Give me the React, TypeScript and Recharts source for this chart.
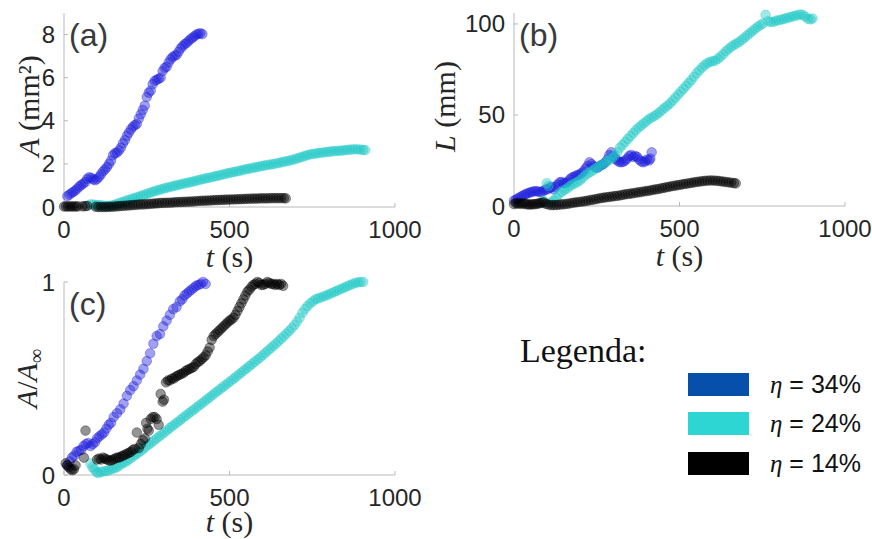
import { ScatterChart, Scatter, XAxis, YAxis, Label } from "recharts";

type Pt = [number, number];

// (a) area A (mm^2) against t (s)
const areaBlue: Pt[] = [
  [10, 0.5], [16, 0.57], [22, 0.64], [28, 0.7], [34, 0.76], [40, 0.85], [46, 0.95], [52, 1.02],
  [58, 1.08], [64, 1.15], [70, 1.3], [76, 1.38], [82, 1.35], [88, 1.28], [94, 1.24], [100, 1.3],
  [106, 1.4], [112, 1.52], [118, 1.65], [124, 1.75], [130, 1.85], [136, 2.0], [142, 2.15], [148, 2.4],
  [154, 2.5], [160, 2.52], [166, 2.62], [172, 2.75], [178, 2.95], [184, 3.1], [190, 3.3], [196, 3.45],
  [202, 3.6], [208, 3.72], [214, 3.8], [220, 3.85], [226, 4.1], [232, 4.3], [238, 4.5], [244, 4.7],
  [250, 5.1], [256, 5.3], [262, 5.4], [268, 5.7], [274, 5.85], [280, 5.9], [286, 5.95], [292, 6.0],
  [298, 6.3], [304, 6.45], [310, 6.5], [316, 6.7], [322, 6.85], [328, 6.95], [334, 7.02], [340, 7.05],
  [346, 7.2], [352, 7.35], [358, 7.45], [364, 7.55], [370, 7.6], [376, 7.7], [382, 7.78], [388, 7.85],
  [394, 7.92], [400, 8.0], [406, 8.03], [412, 8.06], [418, 8.02],
];
const areaCyan: Pt[] = [
  [80, 0.12], [88, 0.11], [96, 0.1], [104, 0.09], [112, 0.08], [120, 0.06], [128, 0.05], [136, 0.05],
  [144, 0.07], [152, 0.1], [160, 0.14], [168, 0.19], [176, 0.23], [184, 0.27], [192, 0.31], [200, 0.35],
  [208, 0.39], [216, 0.43], [224, 0.47], [232, 0.51], [240, 0.55], [248, 0.6], [256, 0.64], [264, 0.68],
  [272, 0.72], [280, 0.76], [288, 0.8], [296, 0.83], [304, 0.87], [312, 0.9], [320, 0.93], [328, 0.96],
  [336, 0.99], [344, 1.02], [352, 1.05], [360, 1.08], [368, 1.11], [376, 1.13], [384, 1.16], [392, 1.19],
  [400, 1.22], [408, 1.25], [416, 1.28], [424, 1.31], [432, 1.34], [440, 1.36], [448, 1.39], [456, 1.42],
  [464, 1.45], [472, 1.48], [480, 1.51], [488, 1.54], [496, 1.57], [504, 1.59], [512, 1.62], [520, 1.65],
  [528, 1.67], [536, 1.7], [544, 1.73], [552, 1.76], [560, 1.78], [568, 1.81], [576, 1.83], [584, 1.86],
  [592, 1.88], [600, 1.91], [608, 1.93], [616, 1.95], [624, 1.97], [632, 1.99], [640, 2.02], [648, 2.04],
  [656, 2.07], [664, 2.1], [672, 2.12], [680, 2.15], [688, 2.18], [696, 2.21], [704, 2.25], [712, 2.29],
  [720, 2.33], [728, 2.37], [736, 2.41], [744, 2.44], [752, 2.46], [760, 2.48], [768, 2.5], [776, 2.52],
  [784, 2.53], [792, 2.55], [800, 2.56], [808, 2.58], [816, 2.59], [824, 2.6], [832, 2.61], [840, 2.62],
  [848, 2.63], [856, 2.65], [864, 2.66], [872, 2.67], [880, 2.68], [888, 2.67], [896, 2.66], [904, 2.65],
  [910, 2.64],
];
const areaBlack: Pt[] = [
  [0, 0.02], [6, 0.03], [12, 0.02], [18, 0.03], [24, 0.02], [30, 0.03], [36, 0.02], [42, 0.03],
  [56, 0.03], [64, 0.04], [70, 0.05], [96, 0.01], [104, 0.0], [112, 0.0], [120, 0.0], [128, 0.0],
  [136, 0.01], [144, 0.01], [152, 0.02], [160, 0.03], [168, 0.04], [176, 0.05], [184, 0.06], [192, 0.07],
  [200, 0.08], [208, 0.09], [216, 0.1], [224, 0.11], [232, 0.12], [240, 0.12], [248, 0.13], [256, 0.14],
  [264, 0.15], [272, 0.16], [280, 0.17], [288, 0.18], [296, 0.19], [304, 0.19], [312, 0.2], [320, 0.2],
  [328, 0.21], [336, 0.22], [344, 0.23], [352, 0.23], [360, 0.24], [368, 0.24], [376, 0.25], [384, 0.25],
  [392, 0.26], [400, 0.27], [408, 0.28], [416, 0.29], [424, 0.29], [432, 0.3], [440, 0.3], [448, 0.31],
  [456, 0.32], [464, 0.32], [472, 0.33], [480, 0.33], [488, 0.34], [496, 0.34], [504, 0.35], [512, 0.35],
  [520, 0.36], [528, 0.36], [536, 0.37], [544, 0.37], [552, 0.38], [560, 0.38], [568, 0.39], [576, 0.39],
  [584, 0.39], [592, 0.4], [600, 0.4], [608, 0.4], [616, 0.4], [624, 0.41], [632, 0.41], [640, 0.41],
  [648, 0.41], [656, 0.41], [664, 0.41], [670, 0.4],
];

// (b) length L (mm) against t (s)
const lengthBlue: Pt[] = [
  [0, 3], [6, 3.5], [12, 4.2], [18, 4.8], [24, 5.4], [30, 6], [36, 6.6], [42, 7], [48, 7.4], [54, 7.8],
  [60, 8], [66, 8.2], [72, 8], [78, 7.6], [84, 7.8], [90, 8.5], [96, 9], [102, 9.2], [108, 10],
  [114, 10.5], [120, 9.2], [126, 10.5], [132, 11.8], [138, 13], [144, 13.2], [150, 12.5], [156, 12.6],
  [162, 13.2], [168, 14.5], [174, 15.5], [180, 16], [186, 16.5], [192, 17], [198, 17.3], [204, 18],
  [210, 19], [216, 20.5], [222, 22], [228, 24], [234, 23], [240, 22], [246, 21.2], [252, 21], [258, 21.8],
  [264, 22.5], [270, 23], [276, 24], [282, 25.5], [288, 28], [294, 29.5], [300, 27.5], [306, 26],
  [312, 25], [318, 24.2], [324, 24], [330, 24.3], [336, 25], [342, 26], [348, 27.5], [354, 28], [360, 27],
  [366, 27.5], [372, 27], [378, 25.5], [384, 24.5], [390, 24], [396, 24.5], [402, 25.5], [408, 25],
  [412, 26], [416, 29.5],
];
const lengthCyan: Pt[] = [
  [88, 3], [99, 12.5], [104, 11], [112, 2], [120, 3], [128, 4.5], [136, 6.5], [144, 7.8], [152, 8.8],
  [160, 9.6], [168, 10.8], [176, 11.7], [184, 12.4], [192, 13.2], [200, 14.2], [208, 15.6], [216, 17],
  [224, 18], [232, 18.8], [240, 19.8], [248, 20.8], [256, 21.6], [264, 22.4], [272, 23.4], [280, 24.5],
  [288, 25.3], [296, 26.3], [304, 27.8], [312, 29.5], [320, 32], [328, 33.6], [336, 35.2], [344, 36.8],
  [352, 38.4], [360, 40], [368, 41.6], [376, 43], [384, 44.2], [392, 45.4], [400, 46.5], [408, 47.8],
  [416, 48.6], [424, 49.4], [432, 50.3], [440, 51.5], [448, 52.8], [456, 54], [464, 55.2], [472, 56.4],
  [480, 58], [488, 59.6], [496, 61.2], [504, 62.8], [512, 64.4], [520, 66], [528, 67.6], [536, 69.2],
  [544, 71], [552, 73], [560, 74.5], [568, 76], [576, 77.4], [584, 78.4], [592, 79.2], [600, 79.5],
  [608, 79.8], [616, 80.8], [624, 82], [632, 83.4], [640, 85], [648, 86.2], [656, 87.4], [664, 88.4],
  [672, 89.2], [680, 90], [688, 91.2], [696, 92.4], [704, 93.6], [712, 94.8], [720, 96], [728, 97.2],
  [736, 98.4], [744, 99.4], [752, 100.2], [760, 105], [768, 101.5], [776, 101], [784, 101.2], [792, 101.8],
  [800, 102], [808, 102.4], [816, 102.8], [824, 103.2], [832, 103.6], [840, 104], [848, 104.4],
  [856, 104.8], [864, 105.2], [872, 105], [880, 104], [888, 102.8], [896, 102.5], [902, 103],
];
const lengthBlack: Pt[] = [
  [0, 1], [6, 1.6], [12, 1.2], [18, 1.6], [24, 1.1], [30, 1.5], [36, 1], [42, 0.9], [48, 0.8], [54, 0.9],
  [60, 1], [66, 1.1], [72, 1.3], [78, 1.5], [84, 1.8], [90, 2], [96, 1.2], [104, 0.8], [112, 0.5],
  [120, 0.5], [128, 0.6], [136, 0.7], [144, 0.9], [152, 1], [160, 1.2], [168, 1.4], [176, 1.7], [184, 1.9],
  [192, 2.1], [200, 2.3], [208, 2.5], [216, 2.7], [224, 3], [232, 3.3], [240, 3.5], [248, 3.8], [256, 4.1],
  [264, 4.4], [272, 4.6], [280, 4.8], [288, 5], [296, 5.2], [304, 5.4], [312, 5.6], [320, 5.8], [328, 6.1],
  [336, 6.4], [344, 6.6], [352, 6.8], [360, 7], [368, 7.3], [376, 7.5], [384, 7.7], [392, 8], [400, 8.2],
  [408, 8.4], [416, 8.7], [424, 9], [432, 9.2], [440, 9.5], [448, 9.8], [456, 10.1], [464, 10.4],
  [472, 10.7], [480, 11], [488, 11.2], [496, 11.5], [504, 11.7], [512, 12], [520, 12.2], [528, 12.5],
  [536, 12.7], [544, 13], [552, 13.2], [560, 13.4], [568, 13.6], [576, 13.8], [584, 13.9], [592, 14],
  [600, 14], [608, 13.9], [616, 13.8], [624, 13.6], [632, 13.4], [640, 13.2], [648, 13], [656, 12.8],
  [664, 12.6], [670, 12.4],
];

// (c) normalised area A/A_inf against t (s)
const normBlue: Pt[] = [
  [10, 0.05], [17, 0.07], [24, 0.09], [31, 0.1], [38, 0.12], [45, 0.125], [52, 0.13], [59, 0.15],
  [66, 0.16], [73, 0.165], [80, 0.15], [87, 0.16], [94, 0.17], [100, 0.19], [107, 0.2], [114, 0.21],
  [121, 0.22], [128, 0.24], [135, 0.26], [142, 0.27], [150, 0.3], [160, 0.32], [170, 0.34], [180, 0.37],
  [190, 0.41], [200, 0.44], [210, 0.46], [220, 0.49], [230, 0.52], [240, 0.55], [250, 0.59], [260, 0.63],
  [270, 0.68], [280, 0.72], [290, 0.73], [300, 0.77], [310, 0.8], [320, 0.83], [330, 0.86], [340, 0.87],
  [350, 0.9], [357, 0.91], [364, 0.93], [371, 0.94], [378, 0.95], [385, 0.96], [392, 0.97], [399, 0.98],
  [406, 0.985], [413, 0.99], [420, 1.0], [428, 0.99],
];
const normCyan: Pt[] = [
  [80, 0.06], [86, 0.04], [92, 0.03], [98, 0.015], [104, 0.01], [112, 0.015], [120, 0.02], [128, 0.02],
  [136, 0.025], [144, 0.03], [152, 0.035], [160, 0.04], [168, 0.05], [176, 0.06], [184, 0.065],
  [192, 0.075], [200, 0.085], [208, 0.095], [216, 0.105], [224, 0.115], [232, 0.125], [240, 0.135],
  [248, 0.147], [256, 0.158], [264, 0.168], [272, 0.178], [280, 0.19], [288, 0.2], [296, 0.21],
  [304, 0.222], [312, 0.233], [320, 0.244], [328, 0.254], [336, 0.265], [344, 0.275], [352, 0.286],
  [360, 0.297], [368, 0.307], [376, 0.318], [384, 0.328], [392, 0.338], [400, 0.349], [408, 0.36],
  [416, 0.37], [424, 0.381], [432, 0.392], [440, 0.402], [448, 0.413], [456, 0.424], [464, 0.434],
  [472, 0.445], [480, 0.456], [488, 0.466], [496, 0.477], [504, 0.488], [512, 0.498], [520, 0.509],
  [528, 0.52], [536, 0.531], [544, 0.542], [552, 0.553], [560, 0.564], [568, 0.575], [576, 0.586],
  [584, 0.597], [592, 0.608], [600, 0.62], [608, 0.632], [616, 0.644], [624, 0.656], [632, 0.668],
  [640, 0.68], [648, 0.693], [656, 0.706], [664, 0.719], [672, 0.732], [680, 0.746], [688, 0.76],
  [696, 0.776], [704, 0.795], [712, 0.815], [720, 0.84], [728, 0.86], [736, 0.875], [744, 0.89],
  [752, 0.9], [760, 0.91], [768, 0.915], [776, 0.92], [784, 0.925], [792, 0.93], [800, 0.936],
  [808, 0.942], [816, 0.948], [824, 0.954], [832, 0.96], [840, 0.966], [848, 0.972], [856, 0.978],
  [864, 0.984], [872, 0.99], [880, 0.995], [888, 0.998], [896, 1.0], [904, 1.0],
];
const normBlack: Pt[] = [
  [5, 0.06], [10, 0.05], [15, 0.04], [20, 0.03], [25, 0.025], [30, 0.03], [35, 0.05], [60, 0.09],
  [65, 0.23], [100, 0.08], [106, 0.085], [112, 0.08], [118, 0.09], [124, 0.085], [130, 0.08],
  [136, 0.075], [142, 0.075], [148, 0.08], [154, 0.085], [160, 0.09], [166, 0.09], [172, 0.095],
  [178, 0.1], [184, 0.105], [190, 0.11], [196, 0.115], [202, 0.12], [208, 0.13], [214, 0.135],
  [220, 0.22], [226, 0.14], [232, 0.16], [238, 0.18], [244, 0.19], [248, 0.27], [252, 0.24], [256, 0.23],
  [262, 0.29], [268, 0.3], [274, 0.3], [280, 0.29], [286, 0.26], [292, 0.42], [298, 0.38], [302, 0.39],
  [308, 0.48], [314, 0.49], [320, 0.49], [326, 0.5], [332, 0.5], [338, 0.51], [344, 0.515], [350, 0.52],
  [356, 0.525], [362, 0.53], [368, 0.54], [374, 0.545], [380, 0.55], [386, 0.555], [392, 0.56],
  [398, 0.575], [404, 0.585], [410, 0.59], [416, 0.6], [422, 0.61], [428, 0.62], [434, 0.64], [440, 0.66],
  [446, 0.7], [452, 0.72], [458, 0.73], [464, 0.74], [470, 0.75], [476, 0.76], [482, 0.77], [488, 0.78],
  [494, 0.79], [500, 0.8], [506, 0.805], [512, 0.815], [518, 0.83], [524, 0.85], [530, 0.87], [536, 0.89],
  [542, 0.91], [548, 0.93], [554, 0.95], [560, 0.96], [566, 0.975], [572, 0.985], [578, 0.99], [584, 1.0],
  [590, 0.995], [596, 0.985], [602, 0.985], [608, 0.99], [614, 1.0], [620, 0.995], [626, 0.99],
  [632, 0.99], [638, 0.985], [644, 0.99], [650, 0.985], [656, 0.99], [662, 0.98],
];

const legendLabels = ["34%", "24%", "14%"];
const markerColors = ["#1c1cdc", "#1fc8c5", "#000000"];
const legendColors = ["#0650ac", "#2ed6d3", "#000000"];
const timeTicks = [0, 500, 1000];

const SANS = "'Liberation Sans', Arial, Helvetica, sans-serif";
const SERIF = "'Liberation Serif', 'Times New Roman', serif";
const AXIS_GRAY = "#b8b8b8";
const TEXT_DARK = "#262626";

const rows = (pts: Pt[]) => pts.map(([t, v]) => ({ t, v }));

function dot(color: string) {
  return (p: any) => (
    <circle
      cx={p.cx}
      cy={p.cy}
      r={4.8}
      fill={color}
      fillOpacity={0.42}
      stroke={color}
      strokeOpacity={0.35}
      strokeWidth={1}
    />
  );
}

interface PanelProps {
  left: number;
  top: number;
  width: number;
  height: number;
  marginTop: number;
  marginRight: number;
  marginBottom: number;
  yWidth: number;
  xHeight: number;
  yDomain: [number, number];
  yTicks: number[];
  sets: Pt[][];
  yTitle: React.ReactNode;
  yTitleX: number;
  yTitleShift?: number;
  xTitleY: number;
  letter: string;
}

function Panel(props: PanelProps) {
  const { left, top, width, height, marginTop, marginRight, marginBottom, yWidth, xHeight } = props;
  return (
    <div style={{ position: "absolute", left, top }}>
      <ScatterChart
        width={width}
        height={height}
        margin={{ top: marginTop, right: marginRight, bottom: marginBottom, left: 0 }}
      >
        <XAxis
          type="number"
          dataKey="t"
          domain={[0, 1000]}
          ticks={timeTicks}
          interval={0}
          height={xHeight}
          stroke={AXIS_GRAY}
          tickSize={-4}
          tickMargin={18}
          tick={{ fill: TEXT_DARK, fontSize: 24, fontFamily: SANS }}
        >
          <Label
            content={(lp: any) => {
              const vb = lp.viewBox;
              return (
                <text
                  x={vb.x + vb.width / 2}
                  y={vb.y + props.xTitleY}
                  textAnchor="middle"
                  fontFamily={SERIF}
                  fontSize={30}
                  fill={TEXT_DARK}
                >
                  <tspan fontStyle="italic">t</tspan>{"\u00a0(s)"}
                </text>
              );
            }}
          />
        </XAxis>
        <YAxis
          type="number"
          dataKey="v"
          domain={props.yDomain}
          ticks={props.yTicks}
          interval={0}
          width={yWidth}
          stroke={AXIS_GRAY}
          tickSize={-4}
          tickMargin={13}
          tick={{ fill: TEXT_DARK, fontSize: 24, fontFamily: SANS }}
        >
          <Label
            content={(lp: any) => {
              const vb = lp.viewBox;
              const cx = vb.x + props.yTitleX;
              const cy = vb.y + vb.height / 2 + (props.yTitleShift ?? 0);
              return (
                <text
                  x={cx}
                  y={cy}
                  transform={`rotate(-90 ${cx} ${cy})`}
                  textAnchor="middle"
                  fontFamily={SERIF}
                  fontSize={30}
                  fill={TEXT_DARK}
                >
                  {props.yTitle}
                </text>
              );
            }}
          />
        </YAxis>
        {props.sets.map((pts, i) => (
          <Scatter
            key={legendLabels[i]}
            data={rows(pts)}
            shape={dot(markerColors[i])}
            isAnimationActive={false}
          />
        ))}
      </ScatterChart>
      <div
        style={{
          position: "absolute",
          left: yWidth + 5,
          top: marginTop + 6,
          fontFamily: SANS,
          fontSize: 32,
          lineHeight: "33px",
          color: "#3a3a3a",
        }}
      >
        {props.letter}
      </div>
    </div>
  );
}

export default function App() {
  return (
    <div
      style={{
        position: "absolute",
        left: 0,
        top: 0,
        width: 872,
        height: 539,
        background: "#fff",
        overflow: "hidden",
      }}
    >
      <Panel
        left={0}
        top={0}
        width={432}
        height={280}
        marginTop={13}
        marginRight={37}
        marginBottom={10}
        yWidth={64}
        xHeight={63}
        yDomain={[0, 9]}
        yTicks={[0, 2, 4, 6, 8]}
        sets={[areaBlue, areaCyan, areaBlack]}
        yTitle={
          <>
            <tspan fontStyle="italic">A</tspan>{"\u00a0(mm²)"}
          </>
        }
        yTitleX={39}
        yTitleShift={-4}
        xTitleY={60}
        letter="(a)"
      />
      <Panel
        left={420}
        top={0}
        width={452}
        height={280}
        marginTop={13}
        marginRight={27}
        marginBottom={10}
        yWidth={94}
        xHeight={64}
        yDomain={[0, 106]}
        yTicks={[0, 50, 100]}
        sets={[lengthBlue, lengthCyan, lengthBlack]}
        yTitle={
          <>
            <tspan fontStyle="italic">L</tspan>{"\u00a0(mm)"}
          </>
        }
        yTitleX={35}
        yTitleShift={-3}
        xTitleY={60}
        letter="(b)"
      />
      <Panel
        left={0}
        top={265}
        width={432}
        height={274}
        marginTop={17}
        marginRight={37}
        marginBottom={0}
        yWidth={64}
        xHeight={64}
        yDomain={[0, 1]}
        yTicks={[0, 1]}
        sets={[normBlue, normCyan, normBlack]}
        yTitle={
          <>
            <tspan fontStyle="italic">A</tspan>/<tspan fontStyle="italic">A</tspan>
            <tspan fontSize={20} dy={6}>∞</tspan>
          </>
        }
        yTitleX={37}
        xTitleY={57}
        letter="(c)"
      />
      <div
        style={{
          position: "absolute",
          left: 520,
          top: 331,
          fontFamily: SERIF,
          fontSize: 34,
          lineHeight: "40px",
          color: "#111",
        }}
      >
        Legenda:
      </div>
      {legendLabels.map((lab, i) => (
        <div
          key={lab}
          style={{
            position: "absolute",
            left: 688,
            top: 372 + i * 39.5,
            height: 24,
            display: "flex",
            alignItems: "center",
            whiteSpace: "nowrap",
          }}
        >
          <div style={{ width: 61, height: 23, background: legendColors[i] }} />
          <span
            style={{
              marginLeft: 21,
              fontFamily: SANS,
              fontSize: 25,
              color: "#111",
            }}
          >
            <span style={{ fontFamily: SERIF, fontStyle: "italic" }}>η</span> = {lab}
          </span>
        </div>
      ))}
    </div>
  );
}
